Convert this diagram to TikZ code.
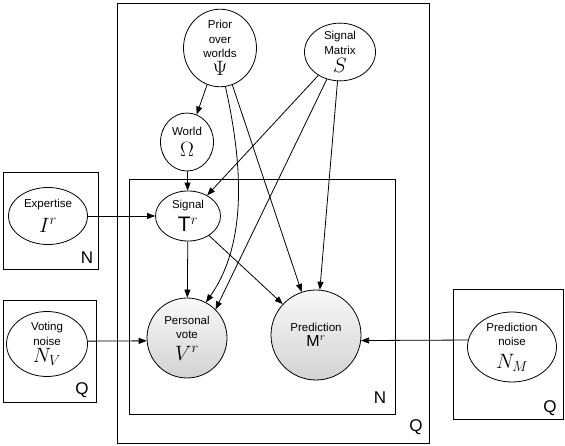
\documentclass[tikz,border=0pt]{standalone}
\usepackage{fontspec}
\setmainfont{Liberation Sans}
\usetikzlibrary{shapes.geometric,arrows.meta}

\tikzset{
  var/.style={draw,ellipse,inner sep=0pt,align=center,
    font=\fontsize{11.5}{14.5}\selectfont},
  obs/.style={draw,circle,inner sep=0pt,align=center,
    top color=gray!5,bottom color=gray!35,
    font=\fontsize{11.5}{14.5}\selectfont},
  platelabel/.style={inner sep=0pt,font=\fontsize{17}{17}\selectfont},
}
\newcommand{\bigsym}[1]{{\fontsize{20}{20}\selectfont #1}}

\begin{document}
\begin{tikzpicture}[x=1pt,y=-1pt,line width=0.8pt,
    >={Triangle[length=8pt,width=6pt]}]
  \useasboundingbox (0,0) rectangle (565,446);
  % plates
  \draw (117,3) rectangle (429,443);
  \node[platelabel] (qout) at (416,427) {Q};
  \draw (129,179) rectangle (395,414);
  \node[platelabel] (nin) at (380,398) {N};
  \draw (3,172) rectangle (98,269);
  \node[platelabel] (nexp) at (87,258) {N};
  \draw (3,300) rectangle (96,402);
  \node[platelabel] (qvote) at (82,390) {Q};
  \draw (453,289) rectangle (563,419);
  \node[platelabel] (qpred) at (550,408) {Q};
  % variables
  \node[var,minimum width=73,minimum height=65] (prior) at (220,48)
    {Prior\\over\\worlds\\[3pt]\bigsym{$\Psi$}};
  \node[var,minimum width=71,minimum height=56] (smatrix) at (340,52)
    {Signal\\Matrix\\[3.5pt]\bigsym{$S$}};
  \node[var,minimum width=53,minimum height=58] (world) at (187,142)
    {World\\[6pt]\bigsym{$\Omega$}};
  \node[var,minimum width=65,minimum height=50] (signal) at (188,216)
    {Signal\\[5pt]{\fontsize{21}{21}\selectfont T$^r$}};
  \node[var,minimum width=79,minimum height=57] (expertise) at (48,216)
    {Expertise\\[7pt]\bigsym{$I^r$}};
  \node[var,minimum width=81,minimum height=65] (vnoise) at (47,344)
    {Voting\\noise\\[3pt]\bigsym{$N_V$}};
  \node[var,minimum width=89,minimum height=70] (pnoise) at (512,347)
    {Prediction\\noise\\[8pt]\bigsym{$N_M$}};
  \node[obs,minimum size=80] (pvote) at (187,338)
    {Personal\\vote\\[7pt]\bigsym{$V^r$}};
  \node[obs,minimum size=90] (pred) at (316,335)
    {Prediction\\[0pt]{\fontsize{16}{16}\selectfont M$^r$}};
  % edges
  \draw[->] (prior) -- (world);
  \draw[->] (world) -- (signal);
  \draw[->] (smatrix) -- (signal);
  \draw[->] (prior.-82) .. controls (244,170) and (246,245) .. (pvote.62);
  \draw[->] (prior) -- (pred);
  \draw[->] (smatrix) -- (pvote.45);
  \draw[->] (smatrix) -- (pred);
  \draw[->] (signal) -- (pvote);
  \draw[->] (signal) -- (pred);
  \draw[->] (expertise) -- (signal);
  \draw[->] (vnoise.4) -- (pvote.184);
  \draw[->] (pnoise.171) -- (pred.-7);
\end{tikzpicture}
\end{document}
